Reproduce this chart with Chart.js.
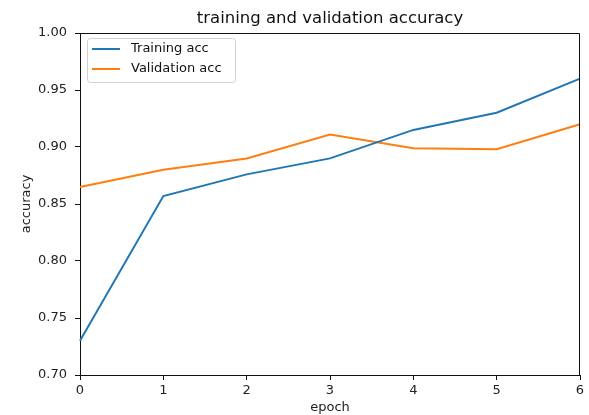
<!DOCTYPE html>
<html>
<head>
<meta charset="utf-8">
<script src="https://cdn.jsdelivr.net/npm/chart.js@4.4.1/dist/chart.umd.min.js"></script>
<style>
  html, body { margin: 0; padding: 0; background: #fff; }
  canvas { display: block; }
</style>
</head>
<body>
<canvas id="accChart" width="589" height="415"></canvas>
<script>
// --- data ---
const epochs = [0, 1, 2, 3, 4, 5, 6];
const trainAcc = [0.730, 0.857, 0.876, 0.890, 0.915, 0.930, 0.960];
const valAcc = [0.865, 0.880, 0.890, 0.911, 0.899, 0.898, 0.920];
const yTicks = [0.70, 0.75, 0.80, 0.85, 0.90, 0.95, 1.00];

const FONT = 'DejaVu Sans';

// title centred over the plot area (matplotlib style)
const plotTitle = {
    id: 'plotTitle',
    afterDraw(chart) {
        const { ctx, chartArea } = chart;
        ctx.save();
        ctx.font = '16.5px "' + FONT + '"';
        ctx.fillStyle = '#111';
        ctx.textAlign = 'center';
        ctx.textBaseline = 'middle';
        ctx.fillText('training and validation accuracy', (chartArea.left + chartArea.right) / 2, 19);
        ctx.restore();
    }
};

// top/right spines + legend inside the upper left corner
const frameAndLegend = {
    id: 'frameAndLegend',
    afterDraw(chart) {
        const { ctx, chartArea } = chart;
        ctx.save();
        ctx.strokeStyle = '#111';
        ctx.lineWidth = 1;
        ctx.beginPath();
        ctx.moveTo(chartArea.left, chartArea.top + 0.5);
        ctx.lineTo(chartArea.right - 0.5, chartArea.top + 0.5);
        ctx.lineTo(chartArea.right - 0.5, chartArea.bottom);
        ctx.stroke();

        // legend frame
        const bx = chartArea.left + 7, by = chartArea.top + 5, bw = 148, bh = 44;
        ctx.beginPath();
        ctx.roundRect(bx + 0.5, by + 0.5, bw, bh, 3);
        ctx.fillStyle = 'rgba(255,255,255,0.8)';
        ctx.fill();
        ctx.strokeStyle = '#d0d0d0';
        ctx.stroke();

        ctx.font = '13px "' + FONT + '"';
        ctx.textBaseline = 'middle';
        ctx.textAlign = 'left';
        chart.data.datasets.forEach((ds, i) => {
            const y = by + 11 + i * 20;
            ctx.beginPath();
            ctx.moveTo(bx + 5, y);
            ctx.lineTo(bx + 33, y);
            ctx.strokeStyle = ds.borderColor;
            ctx.lineWidth = 2;
            ctx.stroke();
            ctx.fillStyle = '#111';
            ctx.fillText(ds.label, bx + 44, y);
        });
        ctx.restore();
    }
};

new Chart(document.getElementById('accChart'), {
    type: 'line',
    data: {
        labels: epochs,
        datasets: [{
            label: 'Training acc',
            data: trainAcc,
            borderColor: '#1f77b4',
            borderWidth: 2,
            pointRadius: 0,
            tension: 0
        }, {
            label: 'Validation acc',
            data: valAcc,
            borderColor: '#ff7f0e',
            borderWidth: 2,
            pointRadius: 0,
            tension: 0
        }]
    },
    options: {
        responsive: false,
        animation: false,
        layout: { padding: { top: 33, right: 9, left: 0, bottom: 0 } },
        plugins: {
            legend: { display: false },
            title: { display: false },
            tooltip: { enabled: false }
        },
        scales: {
            x: {
                offset: false,
                grid: { drawOnChartArea: false, drawTicks: true, tickLength: 5, color: '#111' },
                border: { color: '#111' },
                ticks: { color: '#222', padding: 3, maxRotation: 0, font: { family: FONT, size: 13 } },
                title: { display: true, text: 'epoch', color: '#222', padding: { top: 0, bottom: 0 }, font: { family: FONT, size: 13 } },
                afterFit(scale) { scale.height = 40; }
            },
            y: {
                min: 0.70,
                max: 1.00,
                afterBuildTicks(scale) { scale.ticks = yTicks.map(v => ({ value: v })); },
                grid: { drawOnChartArea: false, drawTicks: true, tickLength: 5, color: '#111' },
                border: { color: '#111' },
                ticks: {
                    color: '#222',
                    padding: 8,
                    font: { family: FONT, size: 13 },
                    callback: v => Number(v).toFixed(2)
                },
                title: { display: true, text: 'accuracy', color: '#222', padding: { top: 19, bottom: 0 }, font: { family: FONT, size: 13 } },
                afterFit(scale) { scale.width = 80; }
            }
        }
    },
    plugins: [plotTitle, frameAndLegend]
});
</script>
</body>
</html>
